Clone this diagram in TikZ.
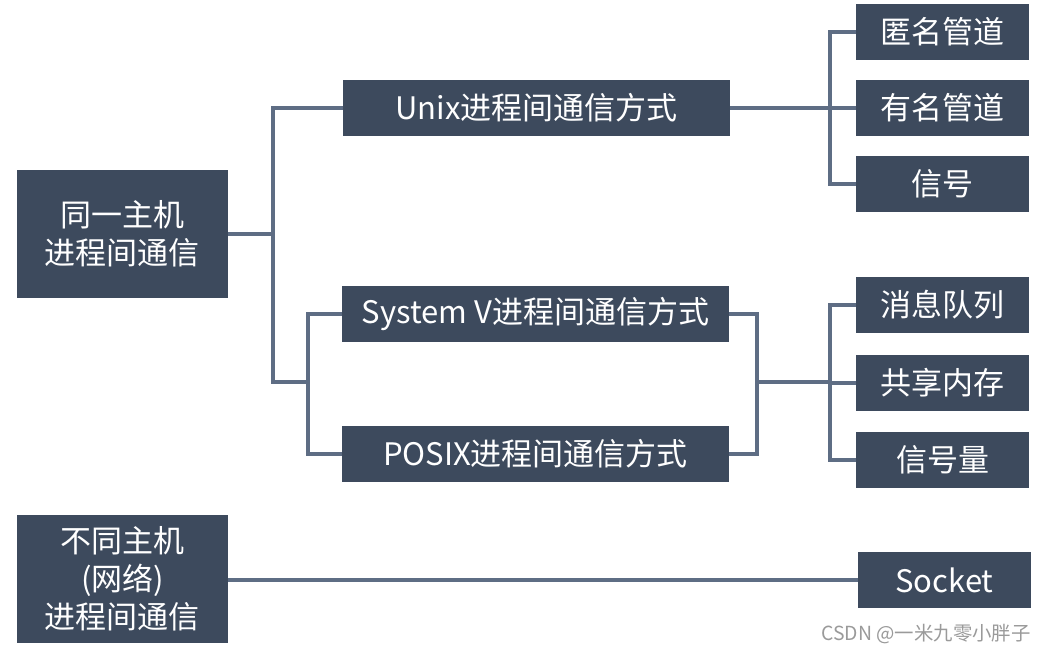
\documentclass[tikz,border=0pt]{standalone}
\usepackage{fontspec}
\usepackage{xcolor}
\definecolor{ipcbox}{HTML}{3D4A5D}
\definecolor{ipcline}{HTML}{5E6D84}
\definecolor{ipcmark}{HTML}{9A9A9A}
\newfontfamily\cjk{Noto Sans CJK SC}
\usepackage{tikz}
\usetikzlibrary{positioning,calc}

\tikzset{
  box/.style={fill=ipcbox,text=white,inner sep=0pt,align=center,
    font=\cjk\fontsize{15.5}{19}\selectfont},
  rootbox/.style={box,minimum width=105.5pt,minimum height=64pt},
  waybox/.style={box,minimum width=193.5pt,minimum height=28pt},
  leafbox/.style={box,minimum width=86.5pt,minimum height=28pt},
  link/.style={draw=ipcline,line width=2pt}
}

\begin{document}
\begin{tikzpicture}[x=0.5pt,y=-0.5pt]
\useasboundingbox[fill=white] (0,0) rectangle (1046,653);

% left column
\node[rootbox] (same) at (122.5,234) {同一主机\\进程间通信};
\node[rootbox] (diff) at (122.5,578.5) {不同主机\\(网络)\\进程间通信};

% middle column
\node[waybox] (unix)  at (536.5,108) {Unix进程间通信方式};
\node[waybox] (sysv)  at (535.5,314) {System V进程间通信方式};
\node[waybox] (posix) at (535.5,454) {POSIX进程间通信方式};

% right column
\node[leafbox] (anon)   at (942.5,31.5)  {匿名管道};
\node[leafbox] (named)  at (942.5,108)   {有名管道};
\node[leafbox] (signal) at (942.5,183.5) {信号};
\node[leafbox] (msgq)   at (942.5,305)   {消息队列};
\node[leafbox] (shm)    at (942.5,382.5) {共享内存};
\node[leafbox] (sem)    at (942.5,460)   {信号量};
\node[leafbox] (socket) at (944.5,580)   {Socket};

% joints
\coordinate (j1) at (273,234);
\coordinate (j2) at (273,382);
\coordinate (j3) at (308,382);
\coordinate (j4) at (757,382);
\coordinate (j5) at (830,382);
\coordinate (j6) at (830,108);

% connectors
\draw[link] (same.east) -- (j1);
\draw[link] (unix.west) -| (j2) -- (j3);
\draw[link] (sysv.west) -| (j3) |- (posix.west);
\draw[link] (sysv.east) -| (j4) |- (posix.east);
\draw[link] (j4) -- (j5);
\draw[link] (msgq.west) -| (j5) |- (sem.west);
\draw[link] (shm.west) -- (shm.west -| j5);
\draw[link] (unix.east) -- (j6);
\draw[link] (anon.west) -| (j6) |- (signal.west);
\draw[link] (named.west) -- (j6);
\draw[link] (diff.east |- socket.west) -- (socket.west);

% watermark
\node[anchor=east,inner sep=0pt,text=ipcmark,font=\cjk\fontsize{9.7}{12}\selectfont]
  (mark) at (1031,634) {CSDN @一米九零小胖子};
\end{tikzpicture}
\end{document}
